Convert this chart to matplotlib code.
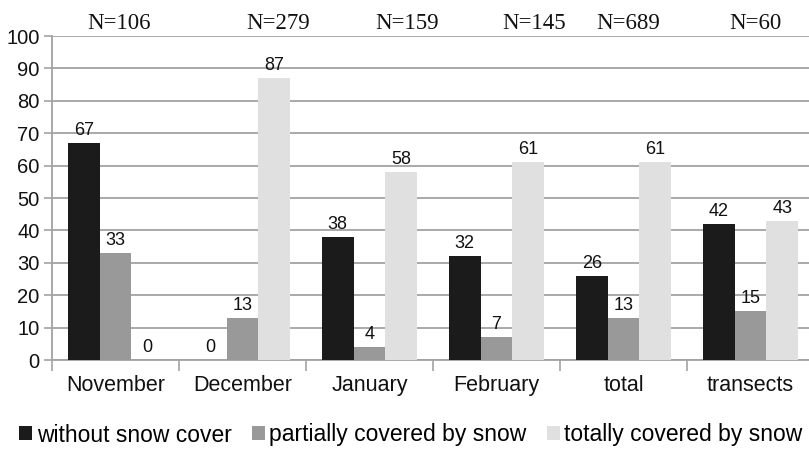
import matplotlib
matplotlib.use("Agg")
import matplotlib.pyplot as plt
from matplotlib.patches import Patch
import numpy as np

categories = ["November", "December", "January", "February", "total", "transects"]
without_snow = [67, 0, 38, 32, 26, 42]
partially = [33, 13, 4, 7, 13, 15]
totally = [0, 87, 58, 61, 61, 43]
n_labels = ["N=106", "N=279", "N=159", "N=145", "N=689", "N=60"]
series_names = ["without snow cover", "partially covered by snow", "totally covered by snow"]
yticks = [0, 10, 20, 30, 40, 50, 60, 70, 80, 90, 100]

# layout (positions of N labels relative to category centre)
n_offsets = [0.03, 0.28, 0.30, 0.30, 0.04, 0.04]
colors = ["#1b1b1b", "#999999", "#e0e0e0"]
grid_c = "#a3a3a3"

plt.rcParams["font.family"] = ["Liberation Sans", "DejaVu Sans"]

fig = plt.figure(figsize=(8.09, 4.55), dpi=100)
ax = fig.add_axes([52 / 809, 1 - 360 / 455, 762 / 809, 324 / 455])

x = np.arange(len(categories))
w = 0.25
series = [without_snow, partially, totally]
for k, (vals, c) in enumerate(zip(series, colors)):
    pos = x + (k - 1) * w
    ax.bar(pos, vals, width=w, color=c, edgecolor="none", zorder=3)
    for p, v in zip(pos, vals):
        ax.annotate(str(v), (p, v), xytext=(0, 3), textcoords="offset points",
                    ha="center", va="bottom", fontsize=13, color="#111111")

ax.set_xlim(-0.5, len(categories) - 0.5)
ax.set_ylim(0, 100)
ax.set_yticks(yticks)
ax.yaxis.grid(True, color=grid_c, linewidth=1.3, zorder=0)
ax.set_axisbelow(True)

ax.set_xticks(x)
ax.set_xticklabels(categories, fontsize=15.5, color="#111111")
ax.set_xticks(np.arange(len(categories) + 1) - 0.5, minor=True)
ax.tick_params(axis="x", which="major", length=0, pad=11)
ax.tick_params(axis="x", which="minor", length=8, width=1.2, color=grid_c)
ax.tick_params(axis="y", length=6, width=1.2, color=grid_c, labelsize=14.5,
               labelcolor="#111111", pad=3)

for s in ["top", "right"]:
    ax.spines[s].set_visible(False)
for s in ["left", "bottom"]:
    ax.spines[s].set_color(grid_c)
    ax.spines[s].set_linewidth(1.3)

for i, (lab, off) in enumerate(zip(n_labels, n_offsets)):
    ax.text(i + off, 103.8, lab, ha="center", va="center", fontsize=16.5,
            family="Liberation Serif", color="#111111", clip_on=False)

handles = [Patch(facecolor=c, edgecolor="none") for c in colors]
fig.legend(handles, series_names, loc="center", bbox_to_anchor=(0.508, 1 - 435 / 455),
           ncol=3, frameon=False, fontsize=16.5, handlelength=0.55, handleheight=0.55,
           handletextpad=0.2, columnspacing=0.9, borderaxespad=0, borderpad=0)

fig.savefig("out.png", dpi=100)
